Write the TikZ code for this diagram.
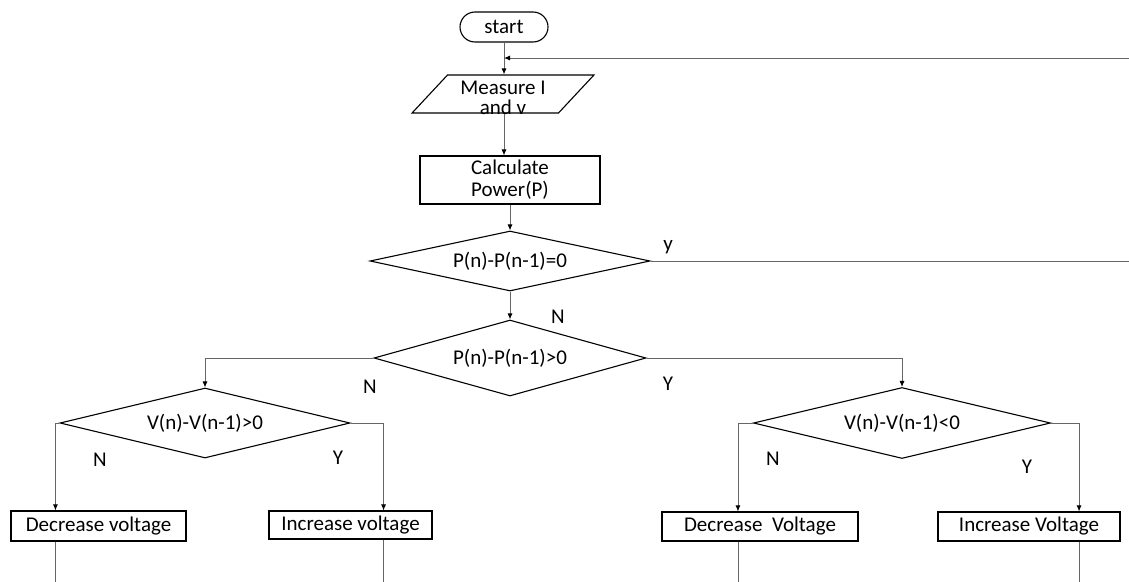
\documentclass[tikz,border=0pt]{standalone}
\usepackage{fontspec}
\setmainfont{Carlito}
\usetikzlibrary{shapes.geometric,arrows.meta}

\tikzset{
  term/.style={draw, rectangle, rounded corners=15pt, line width=1.1pt, inner sep=0pt},
  io/.style={draw, trapezium, trapezium left angle=47, trapezium right angle=133,
    line width=1.1pt, inner sep=0pt},
  proc/.style={draw, rectangle, line width=1.1pt, inner sep=0pt},
  decision/.style={draw, diamond, aspect=5, line width=1.1pt, inner sep=0pt},
  line/.style={draw=black!60, line width=0.9pt},
  arr/.style={line, -{Latex[length=6pt,width=5pt,color=black]}}
}

\begin{document}
\begin{tikzpicture}[x=1pt, y=-1pt, font=\fontsize{21}{22}\selectfont]
\useasboundingbox (0,0) rectangle (1129,581);

\node[io] (meas) at (503,94)
  {\raisebox{-11pt}[19pt][19pt]{\makebox[111pt]{\begin{tabular}{@{}c@{}}Measure I\\[-2pt]and v\end{tabular}}}};
\node[term, minimum width=88, minimum height=30] (start) at (504,27) {start};
\node[proc, minimum width=180, minimum height=48, align=center] (calc) at (510,180) {Calculate\\Power(P)};

\node[decision, minimum width=280, minimum height=60] (d1) at (510,261) {P(n)-P(n-1)=0};
\node[decision, minimum width=272, minimum height=76] (d2) at (510,358) {P(n)-P(n-1)>0};
\node[decision, minimum width=290, minimum height=70] (d3) at (205,423) {V(n)-V(n-1)>0};
\node[decision, minimum width=297, minimum height=71] (d4) at (902,423) {V(n)-V(n-1)<0};

\node[proc, minimum width=175, minimum height=30] (dec1) at (98.5,526) {Decrease voltage};
\node[proc, minimum width=163, minimum height=28] (inc1) at (350.5,525) {Increase voltage};
\node[proc, minimum width=196, minimum height=29] (dec2) at (760,526.5) {Decrease~~Voltage};
\node[proc, minimum width=182, minimum height=29] (inc2) at (1029,526.5) {Increase Voltage};

% labels
\node (ly1) at (668,247) {y};
\node (ln1) at (558,317) {N};
\node (ln2) at (370,387) {N};
\node (ly2) at (668,384) {Y};
\node (ln3) at (100,460) {N};
\node (ly3) at (338,458) {Y};
\node (ln4) at (773,459) {N};
\node (ly4) at (1027,467) {Y};

% connectors
\coordinate (back) at (1129,58);
\draw[arr] (start.south) -- (start.south |- meas.north);
\draw[arr] (back) -- (back -| start);
\draw[arr] (start.south |- meas.south) -- (start.south |- calc.north);
\draw[arr] (calc) -- (d1);
\draw[arr] (d1) -- (d2);
\draw[line] (d1.east) -- (d1.east -| back);
\draw[arr] (d2.west) -| (d3.north);
\draw[arr] (d2.east) -| (d4.north);

\draw[arr] (d3.west) -- ++(-4,0) coordinate (c3w) -- (c3w |- dec1.north);
\draw[arr] (d3.east) -- ++(33,0) coordinate (c3e) -- (c3e |- inc1.north);
\draw[arr] (d4.west) -- ++(-15,0) coordinate (c4w) -- (c4w |- dec2.north);
\draw[arr] (d4.east) -- ++(28,0) coordinate (c4e) -- (c4e |- inc2.north);

\draw[line] (c3w |- dec1.south) -- ++(0,40);
\draw[line] (c3e |- inc1.south) -- ++(0,43);
\draw[line] (c4w |- dec2.south) -- ++(0,40);
\draw[line] (c4e |- inc2.south) -- ++(0,40);
\end{tikzpicture}
\end{document}
